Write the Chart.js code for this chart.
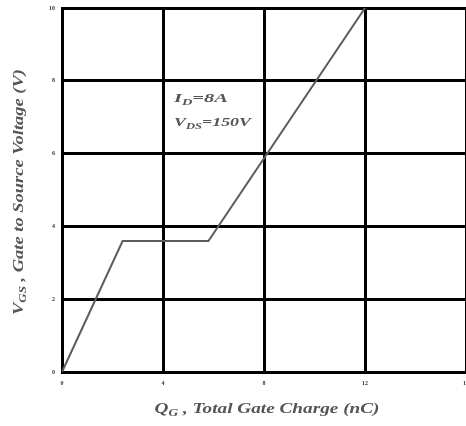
<!DOCTYPE html>
<html>
<head>
<meta charset="utf-8">
<script src="https://cdn.jsdelivr.net/npm/chart.js@4.4.1/dist/chart.umd.min.js"></script>
<style>
  html, body { margin: 0; padding: 0; background: #fff; }
  #wrap { width: 466px; height: 426px; }
</style>
</head>
<body>
<div id="wrap"><canvas id="myChart" width="466" height="426"></canvas></div>
<script>
// gate charge curve
const chargeNC = [0, 2.4, 5.8, 12];
const gateVolts = [0, 3.6, 3.6, 10];
const xTicks = [0, 4, 8, 12, 16];
const yTicks = [0, 2, 4, 6, 8, 10];

const serif = '"Liberation Serif", "DejaVu Serif", serif';

// draws a label with subscripts, stretched to the width it has in the picture
function subText(ctx, parts, x, y, size, align, width) {
  const fontFor = p => 'bold italic ' + (p.sub ? size * 0.7 : size) + 'px ' + serif;
  let total = 0;
  parts.forEach(p => {
    ctx.font = fontFor(p);
    total += ctx.measureText(p.t).width;
  });
  const k = width ? width / total : 1;
  ctx.save();
  ctx.translate(align === 'center' ? x - total * k / 2 : x, y);
  ctx.scale(k, 1);
  let cx = 0;
  parts.forEach(p => {
    ctx.font = fontFor(p);
    ctx.fillText(p.t, cx, p.sub ? size * 0.3 : 0);
    cx += ctx.measureText(p.t).width;
  });
  ctx.restore();
}

const labelsPlugin = {
  id: 'labels',
  afterDraw(chart) {
    const ctx = chart.ctx;
    ctx.save();
    ctx.fillStyle = '#555';
    ctx.textBaseline = 'middle';
    ctx.textAlign = 'left';
    // x title
    subText(ctx, [{t: 'Q'}, {t: 'G', sub: true}, {t: ' , Total Gate Charge (nC)'}], 267, 409, 14, 'center', 225);
    // y title
    ctx.translate(19, 192);
    ctx.rotate(-Math.PI / 2);
    subText(ctx, [{t: 'V'}, {t: 'GS', sub: true}, {t: ' , Gate to Source Voltage (V)'}], 0, 0, 14, 'center', 246);
    ctx.restore();

    ctx.save();
    ctx.fillStyle = '#555';
    ctx.textBaseline = 'middle';
    subText(ctx, [{t: 'I'}, {t: 'D', sub: true}, {t: '=8A'}], 174, 99, 13, 'left', 54);
    subText(ctx, [{t: 'V'}, {t: 'DS', sub: true}, {t: '=150V'}], 174, 123, 13, 'left', 77);
    ctx.restore();
  }
};

new Chart(document.getElementById('myChart'), {
  type: 'scatter',
  data: {
    datasets: [{
      data: chargeNC.map((q, i) => ({x: q, y: gateVolts[i]})),
      showLine: true,
      borderColor: '#5c5c5c',
      borderWidth: 2,
      pointRadius: 0,
      tension: 0
    }]
  },
  options: {
    responsive: false,
    animation: false,
    layout: { padding: { top: 8, right: 0, left: 0, bottom: 0 } },
    plugins: { legend: { display: false }, tooltip: { enabled: false } },
    scales: {
      x: {
        type: 'linear',
        min: 0, max: 16,
        afterBuildTicks: s => { s.ticks = xTicks.map(v => ({value: v})); },
        afterFit: s => { s.height = 54; s.paddingLeft = 0; s.paddingRight = 0; },
        grid: { color: '#000', lineWidth: 3, drawTicks: false },
        border: { color: '#000', width: 3 },
        ticks: { color: '#333', font: { size: 6, family: serif, weight: 'bold' }, padding: 8, maxRotation: 0 }
      },
      y: {
        min: 0, max: 10,
        afterBuildTicks: s => { s.ticks = yTicks.map(v => ({value: v})); },
        afterFit: s => { s.width = 62; s.paddingTop = 0; s.paddingBottom = 0; },
        grid: { color: '#000', lineWidth: 3, drawTicks: false },
        border: { color: '#000', width: 3 },
        ticks: { color: '#333', font: { size: 6, family: serif, weight: 'bold' }, padding: 7 }
      }
    }
  },
  plugins: [labelsPlugin]
});
</script>
</body>
</html>
